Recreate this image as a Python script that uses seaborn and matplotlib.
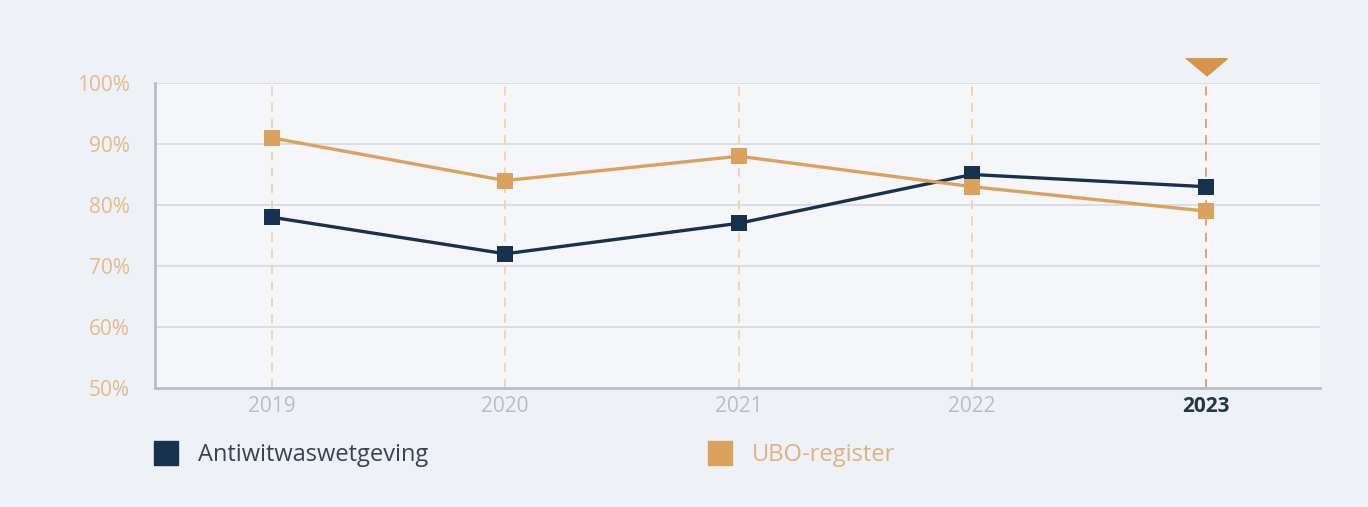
import numpy as np
import pandas as pd
import seaborn as sns
import matplotlib.pyplot as plt
from matplotlib.lines import Line2D

# data
years = [2019, 2020, 2021, 2022, 2023]
antiwitwas = [78, 72, 77, 85, 83]
ubo = [91, 84, 88, 83, 79]
series_names = ["Antiwitwaswetgeving", "UBO-register"]
y_ticks = [50, 60, 70, 80, 90, 100]

navy = "#17324f"
orange = "#dba25e"
orange_light = "#f0d3b2"

df = pd.DataFrame({"year": years, series_names[0]: antiwitwas, series_names[1]: ubo})
df = df.melt(id_vars=["year"], var_name="serie", value_name="pct")  # long form for hue

sns.set_theme(style="white")
plt.rcParams["font.family"] = ["Open Sans", "DejaVu Sans"]

fig = plt.figure(figsize=(13.68, 5.07), dpi=100, facecolor="#eef1f5")
ax = fig.add_axes([0.1133, 0.2347, 0.8517, 0.6016])
ax.set_facecolor("#f4f6f9")

# vertical dashed year lines
for yr in years:
    c = "#d9a066" if yr == years[-1] else orange_light
    ax.axvline(yr, color=c, lw=1.3, ls=(0, (5, 4)), zorder=1)

# horizontal grid
for t in y_ticks[1:]:
    ax.axhline(t, color="#d5d9df", lw=1.2, zorder=0)

sns.lineplot(data=df, x="year", y="pct", hue="serie", palette=[navy, orange],
             marker="s", markersize=12, markeredgewidth=0, linewidth=2.4,
             ax=ax, legend=False, zorder=3)

# marker triangle above the last year
ax.plot(years[-1], 102.7, marker=[(-1, 0.42), (1, 0.42), (0, -0.42)], ms=30,
        color="#d4954a", clip_on=False, zorder=4)

ax.set_xlim(years[0] - 0.5, years[-1] + 0.49)
ax.set_ylim(50, 100)
ax.set_xticks(years)
ax.set_yticks(y_ticks)
ax.set_yticklabels([f"{t}%" for t in y_ticks], color="#e3bb8c", fontsize=15)
ax.set_xticklabels([str(y) for y in years], color="#b9bdc4", fontsize=15)
lab = ax.get_xticklabels()[-1]
lab.set_color("#26364a")
lab.set_fontweight("bold")
ax.tick_params(axis="y", length=0, pad=18)
ax.tick_params(axis="x", length=0, pad=6)
ax.set_xlabel("")
ax.set_ylabel("")

for s in ["top", "right"]:
    ax.spines[s].set_visible(False)
ax.spines["left"].set_color("#b9bec6")
ax.spines["bottom"].set_color("#b9bec6")
ax.spines["left"].set_linewidth(2)
ax.spines["bottom"].set_linewidth(2)

handles = [Line2D([], [], ls="", marker="s", ms=17, color=navy),
           Line2D([], [], ls="", marker="s", ms=17, color=orange)]
leg = ax.legend(handles, series_names, loc="upper left", bbox_to_anchor=(-0.018, -0.11),
                ncol=2, frameon=False, fontsize=17, columnspacing=11.9,
                handletextpad=0.85, handlelength=0.95)
leg.get_texts()[0].set_color("#3a4350")
leg.get_texts()[1].set_color("#e0b27e")

fig.savefig("out.png", dpi=100, facecolor=fig.get_facecolor())
